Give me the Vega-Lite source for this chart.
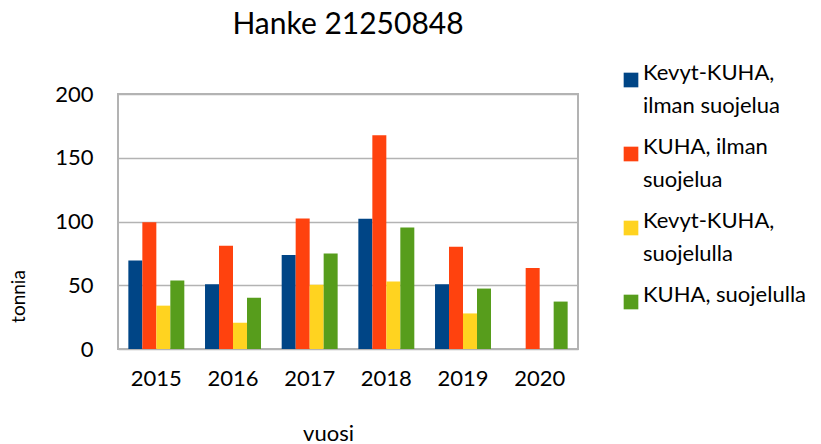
{
  "$schema": "https://vega.github.io/schema/vega-lite/v6.json",
  "width": 460,
  "height": 255,
  "autosize": {"type": "none"},
  "padding": {"left": 118, "top": 94, "right": 243, "bottom": 95},
  "background": "white",
  "title": {"text": "Hanke 21250848", "fontSize": 30, "font": "Lato", "fontWeight": "normal", "color": "#000000", "offset": 29, "anchor": "middle"},
  "data": {"values": [
    {"vuosi": "2015", "sarja": "Kevyt-KUHA, ilman suojelua", "tonnia": 69.5},
    {"vuosi": "2015", "sarja": "KUHA, ilman suojelua", "tonnia": 99.5},
    {"vuosi": "2015", "sarja": "Kevyt-KUHA, suojelulla", "tonnia": 34},
    {"vuosi": "2015", "sarja": "KUHA, suojelulla", "tonnia": 53.8},
    {"vuosi": "2016", "sarja": "Kevyt-KUHA, ilman suojelua", "tonnia": 50.8},
    {"vuosi": "2016", "sarja": "KUHA, ilman suojelua", "tonnia": 81},
    {"vuosi": "2016", "sarja": "Kevyt-KUHA, suojelulla", "tonnia": 20.6},
    {"vuosi": "2016", "sarja": "KUHA, suojelulla", "tonnia": 40.2},
    {"vuosi": "2017", "sarja": "Kevyt-KUHA, ilman suojelua", "tonnia": 73.7},
    {"vuosi": "2017", "sarja": "KUHA, ilman suojelua", "tonnia": 102.3},
    {"vuosi": "2017", "sarja": "Kevyt-KUHA, suojelulla", "tonnia": 50.3},
    {"vuosi": "2017", "sarja": "KUHA, suojelulla", "tonnia": 75},
    {"vuosi": "2018", "sarja": "Kevyt-KUHA, ilman suojelua", "tonnia": 102.1},
    {"vuosi": "2018", "sarja": "KUHA, ilman suojelua", "tonnia": 167.7},
    {"vuosi": "2018", "sarja": "Kevyt-KUHA, suojelulla", "tonnia": 52.9},
    {"vuosi": "2018", "sarja": "KUHA, suojelulla", "tonnia": 95.3},
    {"vuosi": "2019", "sarja": "Kevyt-KUHA, ilman suojelua", "tonnia": 50.8},
    {"vuosi": "2019", "sarja": "KUHA, ilman suojelua", "tonnia": 80.2},
    {"vuosi": "2019", "sarja": "Kevyt-KUHA, suojelulla", "tonnia": 27.9},
    {"vuosi": "2019", "sarja": "KUHA, suojelulla", "tonnia": 47.4},
    {"vuosi": "2020", "sarja": "KUHA, ilman suojelua", "tonnia": 63.5},
    {"vuosi": "2020", "sarja": "KUHA, suojelulla", "tonnia": 37.2}
  ]},
  "mark": {"type": "bar"},
  "encoding": {
    "x": {
      "field": "vuosi", "type": "nominal",
      "scale": {"paddingInner": 0.27, "paddingOuter": 0.135},
      "axis": {
        "title": "vuosi", "labelAngle": 0, "labelFont": "Lato", "labelFontSize": 22, "labelColor": "#000000",
        "labelPadding": 19, "ticks": false, "domain": false,
        "titleFont": "Lato", "titleFontSize": 22, "titleFontWeight": "normal", "titleColor": "#000000",
        "titleX": 210, "titleY": 84, "titleBaseline": "middle", "titleAlign": "center"
      }
    },
    "xOffset": {
      "field": "sarja", "type": "nominal",
      "sort": ["Kevyt-KUHA, ilman suojelua", "KUHA, ilman suojelua", "Kevyt-KUHA, suojelulla", "KUHA, suojelulla"],
      "scale": {"paddingInner": 0, "paddingOuter": 0}
    },
    "y": {
      "field": "tonnia", "type": "quantitative",
      "scale": {"domain": [0, 200], "nice": false},
      "axis": {
        "title": "tonnia", "values": [0, 50, 100, 150, 200],
        "labelFont": "Lato", "labelFontSize": 22, "labelColor": "#000000", "labelPadding": 25,
        "ticks": false, "domain": false, "grid": true, "gridColor": "#b3b3b3", "gridWidth": 1.5,
        "titleFont": "Lato", "titleFontSize": 19, "titleFontWeight": "normal", "titleColor": "#000000",
        "titleX": -100, "titleY": 202, "titleAngle": -90, "titleBaseline": "middle", "titleAlign": "center"
      }
    },
    "color": {
      "field": "sarja", "type": "nominal",
      "sort": ["Kevyt-KUHA, ilman suojelua", "KUHA, ilman suojelua", "Kevyt-KUHA, suojelulla", "KUHA, suojelulla"],
      "scale": {
        "domain": ["Kevyt-KUHA, ilman suojelua", "KUHA, ilman suojelua", "Kevyt-KUHA, suojelulla", "KUHA, suojelulla"],
        "range": ["#004586", "#ff420e", "#ffd320", "#579d1c"]
      },
      "legend": {
        "title": null, "orient": "none", "legendX": 502, "legendY": -25,
        "symbolType": "square", "symbolSize": 215, "symbolStrokeWidth": 0,
        "labelFont": "Lato", "labelFontSize": 22, "labelColor": "#000000", "labelLimit": 300,
        "labelBaseline": "alphabetic", "labelOffset": 1, "rowPadding": 19,
        "labelExpr": "datum.label == 'Kevyt-KUHA, ilman suojelua' ? ['Kevyt-KUHA,', 'ilman suojelua'] : datum.label == 'KUHA, ilman suojelua' ? ['KUHA, ilman', 'suojelua'] : datum.label == 'Kevyt-KUHA, suojelulla' ? ['Kevyt-KUHA,', 'suojelulla'] : datum.label",
        "encode": {"labels": {"update": {"lineHeight": {"value": 33}, "dy": {"value": 7}}}}
      }
    }
  },
  "config": {
    "view": {"stroke": "#b3b3b3", "strokeWidth": 2},
    "bar": {"stroke": null},
    "style": {"guide-label": {"lineHeight": 33}}
  }
}
